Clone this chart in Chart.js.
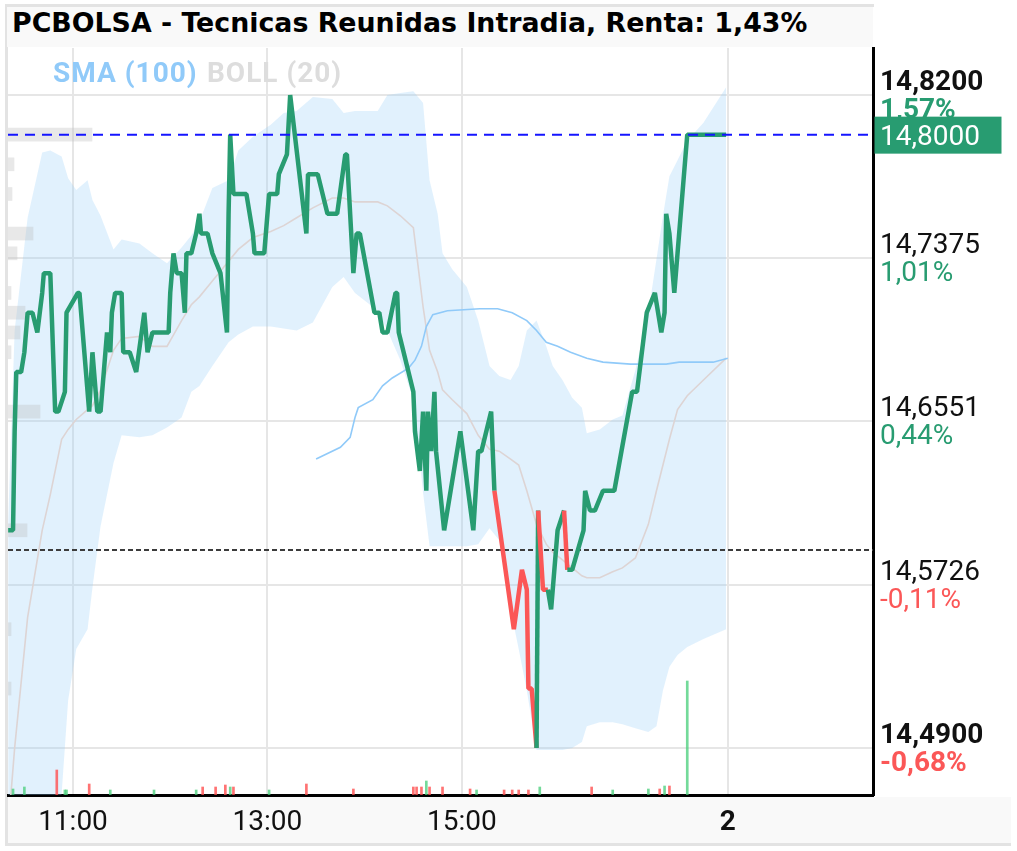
<!DOCTYPE html>
<html>
<head>
<meta charset="utf-8">
<script src="https://cdn.jsdelivr.net/npm/chart.js@4.4.0/dist/chart.umd.min.js"></script>
<style>
  html, body { margin: 0; padding: 0; background: #fff; }
  #wrap { position: relative; width: 1017px; height: 851px; }
  canvas { display: block; }
  #title { position: absolute; left: 7px; top: 7px; width: 866px; height: 40px; line-height: 40px;
           background: #f9f9f9; padding-left: 5px; box-sizing: border-box; white-space: nowrap;
           font: bold 26.8px "DejaVu Sans"; color: #000; }
  .leg { position: absolute; top: 55px; font: bold 28px Roboto; letter-spacing: 1px; line-height: 36px; white-space: nowrap; }
</style>
</head>
<body>
<div id="wrap">
  <canvas id="c" width="1017" height="851"></canvas>
  <div id="title">PCBOLSA - Tecnicas Reunidas Intradia, Renta: 1,43%</div>
  <div class="leg" style="left:53px;color:#90caf9">SMA (100)</div>
  <div class="leg" style="left:207px;color:#dddddd">BOLL (20)</div>
</div>
<script>
// time axis in minutes since midnight (11:00 = 660)
const xMin = 619.9, xMax = 1153.6;
const yMin = 14.4662, yMax = 14.8438;
const xTicks = [660, 780, 900, 1064];
const xLabels = ['11:00', '13:00', '15:00', '2'];
const yTicks = [14.49, 14.5726, 14.6551, 14.7375, 14.82];
const priceLabels = ['14,4900', '14,5726', '14,6551', '14,7375', '14,8200'];
const pctLabels = ['-0,68%', '-0,11%', '0,44%', '1,01%', '1,57%'];
const lastPrice = 14.80;
const lastPriceLabel = '14,8000';
const prevClose = 14.59;

// price ticks
const priceTimes = [620,623,624,625,628,630,632,635,638,641,642,646,649,651,655,656,663,664,670,672,
  675,677,681,683,684,686,690,691,695,699,704,706,709,712,719,720,722,724,727,729,
  730,733,736,738,739,743,746,751,755,756,757,759,767,771,772,778,781,786,787,792,
  794,804,805,811,817,823,828,829,833,835,837,846,849,851,854,859,860,861,870,871,
  874,876,878,879,881,883,884,889,899,907,910,912,918,920,932,937,940,941,943,946,
  947,950,953,955,959,963,965,968,975,976,979,982,987,994,1005,1008,1014,1019,1023,1025,
  1026,1028,1031,1033,1039,1063];
const priceValues = [14.60,14.60,14.65,14.68,14.68,14.69,14.71,14.71,14.70,14.72,14.73,14.73,14.66,14.66,14.67,14.71,14.72,14.72,14.66,14.69,
  14.66,14.66,14.70,14.69,14.71,14.72,14.72,14.69,14.69,14.68,14.71,14.69,14.70,14.70,14.70,14.72,14.74,14.73,14.73,14.71,
  14.74,14.74,14.75,14.76,14.75,14.75,14.74,14.73,14.70,14.76,14.80,14.77,14.77,14.75,14.74,14.74,14.77,14.77,14.78,14.79,
  14.82,14.75,14.78,14.78,14.76,14.76,14.79,14.79,14.73,14.75,14.75,14.71,14.71,14.70,14.70,14.72,14.72,14.70,14.67,14.65,
  14.63,14.66,14.62,14.66,14.64,14.67,14.64,14.60,14.65,14.60,14.64,14.64,14.66,14.62,14.55,14.58,14.57,14.52,14.52,14.49,
  14.61,14.57,14.57,14.56,14.60,14.61,14.58,14.58,14.60,14.62,14.61,14.61,14.62,14.62,14.67,14.67,14.71,14.72,14.70,14.71,
  14.76,14.75,14.72,14.74,14.80,14.80];
// segments drawn red end at these times
const redTimes = [932, 937, 940, 941, 943, 946, 950, 953, 965];

// Bollinger (20)
const bandTimes = [620,624,632,641,646,653,657,662,669,672,677,685,690,701,709,718,727,733,738,746,
  756,762,771,782,790,798,808,820,827,834,848,854,862,870,876,880,885,888,894,903,
  910,917,923,930,935,940,946,952,956,962,968,974,977,985,993,999,1007,1015,1020,1024,
  1028,1033,1039,1049,1063];
const bandUpper = [14.605,14.701,14.758,14.791,14.792,14.789,14.778,14.772,14.777,14.767,14.759,14.742,14.747,14.745,14.740,14.735,14.743,14.749,14.756,14.773,
  14.777,14.792,14.799,14.805,14.811,14.812,14.819,14.818,14.811,14.812,14.812,14.820,14.821,14.822,14.816,14.777,14.760,14.740,14.732,14.723,
  14.706,14.683,14.678,14.676,14.683,14.701,14.706,14.693,14.683,14.676,14.667,14.662,14.649,14.651,14.656,14.658,14.681,14.710,14.737,14.759,
  14.779,14.787,14.797,14.806,14.824];
const bandLower = [14.413,14.413,14.413,14.423,14.433,14.467,14.514,14.540,14.550,14.571,14.602,14.634,14.648,14.647,14.648,14.652,14.657,14.670,14.673,14.683,
  14.695,14.699,14.703,14.703,14.702,14.701,14.705,14.723,14.728,14.720,14.711,14.701,14.686,14.666,14.619,14.592,14.592,14.592,14.592,14.592,
  14.593,14.601,14.595,14.560,14.540,14.519,14.489,14.489,14.489,14.489,14.490,14.493,14.501,14.503,14.503,14.502,14.500,14.498,14.501,14.519,
  14.531,14.537,14.541,14.545,14.550];
const bandMid = [14.449,14.490,14.556,14.600,14.618,14.646,14.651,14.656,14.661,14.663,14.671,14.691,14.697,14.698,14.693,14.693,14.706,14.714,14.718,14.726,
  14.736,14.742,14.748,14.751,14.754,14.758,14.763,14.768,14.768,14.766,14.766,14.764,14.759,14.753,14.713,14.691,14.680,14.671,14.666,14.659,
  14.648,14.641,14.640,14.636,14.633,14.620,14.603,14.593,14.589,14.585,14.581,14.577,14.576,14.576,14.579,14.581,14.586,14.603,14.620,14.633,
  14.646,14.661,14.668,14.676,14.687];

// SMA (100)
const smaTimes = [810,825,831,834,836,845,851,857,867,871,875,878,882,891,911,922,931,940,946,952,959,967,977,987,1004,1026,1034,1055,1064];
const smaValues = [14.636,14.642,14.647,14.657,14.662,14.666,14.673,14.677,14.682,14.686,14.693,14.703,14.709,14.711,14.712,14.712,14.710,14.706,14.701,14.695,14.693,14.690,14.687,14.685,14.684,14.684,14.685,14.685,14.687];

// volume
const volTimes = [623,630,650,655,656,670,683,710,736,740,748,754,757,759,781,804,833,870,872,875,878,880,888,905,909,926,931,935,941,948,980,993,1015,1022,1025,1028,1039];
const volValues = [60,80,250,50,50,110,50,50,50,80,80,100,80,80,50,110,60,80,80,80,140,80,80,60,50,50,50,50,50,80,80,50,60,60,90,90,1140];
const volSide = ['g','g','r','g','g','r','g','g','g','r','r','r','g','r','g','r','r','r','r','r','g','r','r','r','g','r','r','r','r','g','r','g','g','r','g','r','g'];

// volume by price
const profPrices = [14.80,14.785,14.77,14.75,14.74,14.72,14.71,14.70,14.69,14.66,14.60,14.55,14.52];
const profVolumes = [840,60,40,250,90,30,170,120,30,320,190,30,30];

const green = '#289c71';
const red = '#fb5757';

Chart.defaults.font.family = 'Roboto';

const pts = (xs, ys) => xs.map((x, i) => ({ x: x, y: ys[i] }));

// page frame and axis strip
const bgPlugin = {
  id: 'bg',
  beforeDraw(chart) {
    const c = chart.ctx;
    c.save();
    c.fillStyle = '#fff';
    c.fillRect(0, 0, chart.width, chart.height);
    c.fillStyle = '#f9f9f9';
    c.fillRect(7, 797, 1004, 46);
    c.strokeStyle = '#e3e3e3';
    c.lineWidth = 3;
    c.beginPath();
    c.moveTo(6.5, 5); c.lineTo(6.5, 846);
    c.moveTo(5, 5.5); c.lineTo(874, 5.5);
    c.moveTo(5, 844.5); c.lineTo(1011, 844.5);
    c.stroke();
    c.restore();
  }
};

// price + percent labels on the right axis, and the last price box
const yLabelPlugin = {
  id: 'ylabels',
  afterDraw(chart) {
    const c = chart.ctx;
    const ys = chart.scales.y;
    const right = chart.chartArea.right;
    const x0 = right + 7;
    c.save();
    c.textAlign = 'left';
    c.textBaseline = 'middle';
    yTicks.forEach((v, i) => {
      const p = ys.getPixelForValue(v);
      const bold = i === 0 || i === yTicks.length - 1;
      c.font = (bold ? 'bold ' : '') + '28px Roboto';
      c.fillStyle = '#111';
      c.fillText(priceLabels[i], x0, p - 12);
      c.fillStyle = pctLabels[i].charAt(0) === '-' ? red : green;
      c.fillText(pctLabels[i], x0, p + 16);
    });
    const p = ys.getPixelForValue(lastPrice);
    c.fillStyle = green;
    c.fillRect(right + 1.5, p - 18, 127, 37);
    c.fillStyle = '#fff';
    c.font = '28px Roboto';
    c.fillText(lastPriceLabel, x0, p + 3);
    c.restore();
  }
};

new Chart(document.getElementById('c'), {
  type: 'line',
  data: {
    datasets: [
      { data: [{ x: xMin, y: lastPrice }, { x: xMax, y: lastPrice }], borderColor: '#1515ff', borderWidth: 2, borderDash: [10, 7], pointRadius: 0 },
      { data: pts(priceTimes, priceValues), borderColor: green, borderWidth: 4.5, pointRadius: 0, tension: 0, borderJoinStyle: 'bevel',
        segment: { borderColor: c => redTimes.includes(priceTimes[c.p1DataIndex]) ? red : green } },
      { data: [{ x: xMin, y: prevClose }, { x: xMax, y: prevClose }], borderColor: '#3c3c3c', borderWidth: 2, borderDash: [5, 3], pointRadius: 0 },
      { type: 'bar', yAxisID: 'yVol', data: pts(volTimes, volValues), barThickness: 2, grouped: false,
        backgroundColor: volSide.map(s => s === 'g' ? 'rgba(70,205,120,0.75)' : 'rgba(255,80,80,0.8)') },
      { type: 'bar', indexAxis: 'y', xAxisID: 'xProf', yAxisID: 'y', data: profPrices.map((p, i) => ({ x: profVolumes[i], y: p })),
        barThickness: 13, grouped: false, backgroundColor: 'rgba(190,190,190,0.35)' },
      { data: pts(smaTimes, smaValues), borderColor: '#90caf9', borderWidth: 1.6, pointRadius: 0 },
      { data: pts(bandTimes, bandMid), borderColor: '#ddd4d4', borderWidth: 1.6, pointRadius: 0 },
      { data: pts(bandTimes, bandUpper), borderColor: 'transparent', borderWidth: 0, pointRadius: 0,
        fill: '+1', backgroundColor: 'rgba(144,202,249,0.27)' },
      { data: pts(bandTimes, bandLower), borderColor: 'transparent', borderWidth: 0, pointRadius: 0, fill: false }
    ]
  },
  options: {
    responsive: false,
    animation: false,
    devicePixelRatio: 1,
    layout: { padding: { left: 8, top: 48, right: 0, bottom: 0 } },
    plugins: { legend: { display: false }, tooltip: { enabled: false } },
    scales: {
      x: {
        type: 'linear', position: 'bottom', min: xMin, max: xMax, offset: false,
        afterBuildTicks: s => { s.ticks = xTicks.map(v => ({ value: v })); },
        afterFit: s => { s.height = 56; },
        ticks: {
          autoSkip: false, maxRotation: 0, padding: 11, color: '#111',
          font: c => ({ size: 28, weight: c.index === 3 ? 'bold' : 'normal' }),
          callback: (v, i) => xLabels[i]
        },
        grid: { color: '#e6e6e6', lineWidth: 2, drawTicks: false, offset: false },
        border: { color: '#000', width: 3 }
      },
      y: {
        type: 'linear', position: 'right', min: yMin, max: yMax, offset: false,
        afterBuildTicks: s => { s.ticks = yTicks.map(v => ({ value: v })); },
        afterFit: s => { s.width = 144; },
        ticks: { display: false },
        grid: { color: '#e6e6e6', lineWidth: 2, drawTicks: false, offset: false },
        border: { color: '#000', width: 3 }
      },
      yVol: { type: 'linear', axis: 'y', display: false, min: 0, max: 7470, offset: false },
      xProf: { type: 'linear', axis: 'x', display: false, min: 0, max: 8650, offset: false }
    }
  },
  plugins: [bgPlugin, yLabelPlugin]
});
</script>
</body>
</html>
